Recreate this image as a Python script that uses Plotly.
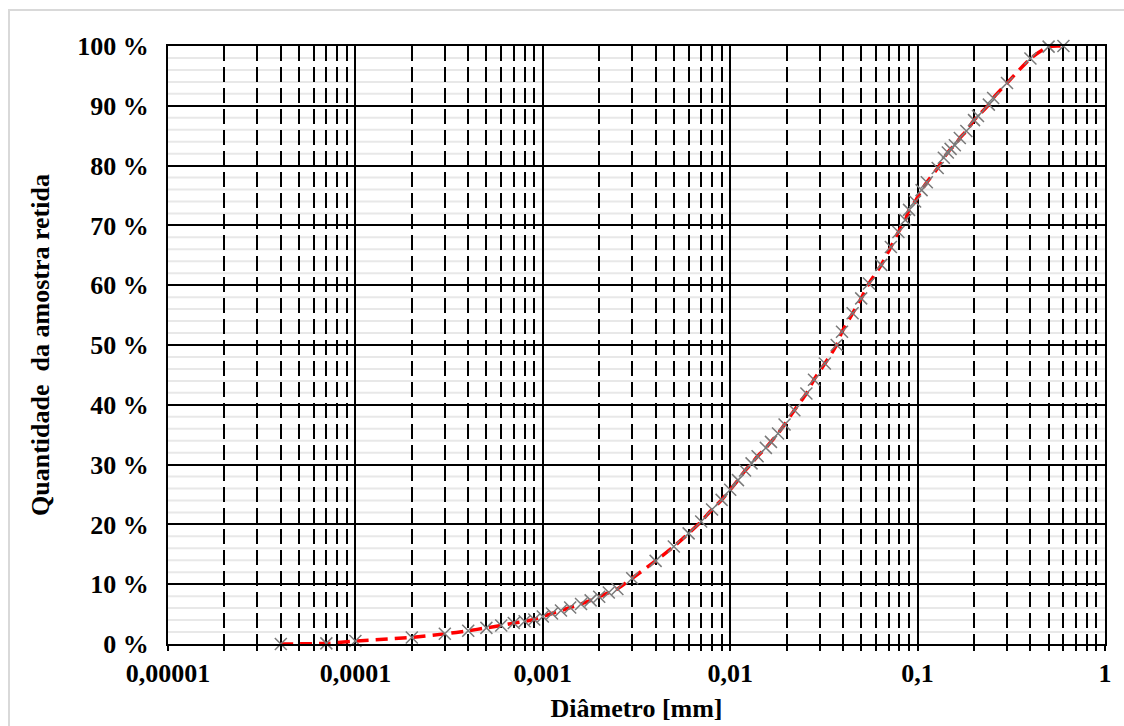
import plotly.graph_objects as go

# Particle size distribution (diameter in mm, cumulative % retained)
diametro_mm = [
    4e-5, 7e-5, 1e-4, 2e-4, 3e-4, 4e-4, 5e-4, 6e-4, 7e-4, 8e-4, 9e-4,
    1.0e-3, 1.12e-3, 1.25e-3, 1.4e-3, 1.6e-3, 1.8e-3, 2.0e-3, 2.25e-3, 2.5e-3,
    3.0e-3, 4.0e-3, 5.0e-3, 6.0e-3, 7.0e-3, 8.0e-3, 9.0e-3,
    1.0e-2, 1.1e-2, 1.2e-2, 1.3e-2, 1.4e-2, 1.55e-2, 1.65e-2, 1.8e-2, 1.95e-2,
    2.2e-2, 2.55e-2, 2.8e-2, 3.2e-2, 3.7e-2, 3.95e-2, 4.5e-2, 5.0e-2, 5.5e-2,
    6.4e-2, 7.2e-2, 7.9e-2, 8.6e-2, 9.0e-2, 9.7e-2,
    0.105, 0.112, 0.128, 0.138, 0.145, 0.150, 0.158, 0.168, 0.182, 0.200,
    0.210, 0.240, 0.253, 0.300, 0.400, 0.500, 0.600,
]
quantidade_pct = [
    0.0, 0.1, 0.5, 1.1, 1.7, 2.2, 2.7, 3.1, 3.5, 3.8, 4.1,
    4.6, 5.1, 5.6, 6.1, 6.7, 7.3, 7.9, 8.6, 9.2,
    11.0, 13.9, 16.3, 18.5, 20.5, 22.5, 24.1,
    25.8, 27.4, 29.0, 30.2, 31.4, 32.8, 33.8, 35.2, 36.7,
    39.1, 41.9, 44.2, 46.9, 50.0, 52.2, 55.3, 57.8, 60.3,
    63.4, 66.4, 68.9, 70.9, 72.6, 74.0,
    75.9, 77.2, 79.6, 81.3, 82.2, 82.8, 83.4, 84.6, 85.8, 87.6,
    88.3, 90.2, 91.3, 93.8, 97.9, 99.9, 100.0,
]

x_tickvals = [1e-5, 1e-4, 1e-3, 1e-2, 1e-1, 1]
x_ticktext = ["0,00001", "0,0001", "0,001", "0,01", "0,1", "1"]
y_tickvals = list(range(0, 101, 10))
y_ticktext = [f"{v} %" for v in y_tickvals]
y_minor_vals = [v for v in range(2, 100, 2) if v % 10 != 0]

FONT = "Liberation Serif"

# light minor horizontal gridlines, drawn beneath the black grid
minor_shapes = [
    dict(type="line", xref="paper", yref="y", x0=0, x1=1, y0=v, y1=v,
         line=dict(color="#e8e8e8", width=2), layer="below")
    for v in y_minor_vals
]
border = dict(type="rect", xref="paper", yref="paper",
              x0=(9 - 168) / 937, x1=(1140 - 168) / 937,
              y0=(644 - 740) / 598, y1=(644 - 10) / 598,
              line=dict(color="#d9d9d9", width=2), layer="below")

fig = go.Figure()
fig.add_trace(go.Scatter(
    x=diametro_mm, y=quantidade_pct, mode="lines",
    line=dict(color="#ff0000", width=3.5, dash="12px,7px", shape="spline", smoothing=0.6),
    showlegend=False, cliponaxis=False,
))
fig.add_trace(go.Scatter(
    x=diametro_mm, y=quantidade_pct, mode="markers",
    marker=dict(symbol="x-thin-open", size=12, color="#7a7a7a",
                line=dict(color="#7a7a7a", width=1.5)),
    showlegend=False, cliponaxis=False,
))

fig.update_layout(
    width=1124, height=726,
    margin=dict(l=168, r=19, t=46, b=82),
    paper_bgcolor="white", plot_bgcolor="white",
    font=dict(family=FONT, color="black"),
    shapes=[border] + minor_shapes,
)

fig.update_xaxes(
    type="log", range=[-5, 0], automargin=False,
    tickvals=x_tickvals, ticktext=x_ticktext,
    tickfont=dict(family=FONT, size=26, color="black", weight="bold"),
    showgrid=True, gridcolor="black", gridwidth=2,
    showline=True, linecolor="black", linewidth=2, mirror=True,
    ticks="outside", ticklen=5, tickwidth=2, tickcolor="black",
    minor=dict(dtick="D1", showgrid=True, gridcolor="black", gridwidth=2,
               griddash="15px,6px", ticks="outside", ticklen=5,
               tickwidth=2, tickcolor="black"),
    title=dict(text="Diâmetro [mm]", standoff=12,
               font=dict(family=FONT, size=26, color="black", weight="bold")),
    zeroline=False,
)
fig.update_yaxes(
    range=[0, 100], automargin=False,
    tickvals=y_tickvals, ticktext=y_ticktext,
    tickfont=dict(family=FONT, size=26, color="black", weight="bold"),
    showgrid=True, gridcolor="black", gridwidth=2,
    showline=True, linecolor="black", linewidth=2, mirror=True,
    ticks="", ticklabelstandoff=12,
    title=dict(text="Quantidade \u00a0da amostra retida", standoff=20,
               font=dict(family=FONT, size=26, color="black", weight="bold")),
    zeroline=False,
)

fig.write_html("out.html")
